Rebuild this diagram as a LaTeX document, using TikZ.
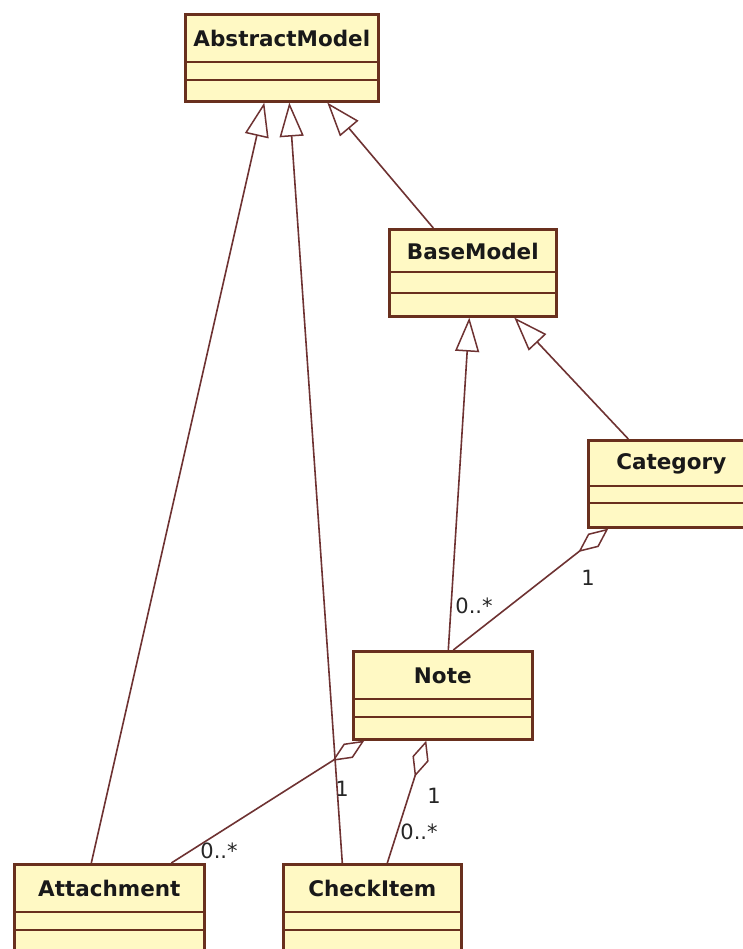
\documentclass[tikz,border=0pt]{standalone}
\usepackage{fontspec}
\setmainfont{DejaVu Sans}
\usetikzlibrary{arrows.meta}
\definecolor{fillc}{RGB}{255,249,196}
\definecolor{boxc}{RGB}{105,48,30}
\definecolor{edgec}{RGB}{110,50,50}
\newcommand{\umlcls}[8]{%
  \node[cls, minimum width=#4pt, minimum height=#5pt] (#1) at (#2,#3) {};
  \draw[sepl] ([yshift=-#6pt]#1.north west) -- ([yshift=-#6pt]#1.north east);
  \draw[sepl] ([yshift=-#7pt]#1.north west) -- ([yshift=-#7pt]#1.north east);
  \node[clstext] (#1-t) at ([yshift=-#6pt/2-1pt]#1.north) {#8};
}
\begin{document}
\begin{tikzpicture}[x=1pt,y=-1pt,
  cls/.style={draw=boxc, fill=fillc, line width=2.6pt, anchor=north west, inner sep=0pt},
  sepl/.style={draw=boxc, line width=2pt},
  clstext/.style={font=\fontsize{21.5}{23}\selectfont\bfseries, text=black!90, inner sep=0pt},
  gen/.style={draw=edgec, line width=1.6pt, -{Triangle[open, length=34pt, width=24pt, line width=1.5pt]}},
  agg/.style={draw=edgec, line width=1.6pt, -{Diamond[open, length=38pt, width=17pt, line width=1.5pt]}},
  lab/.style={font=\fontsize{21}{23}\selectfont, text=black!85, inner sep=0pt}]
\fill[white] (0,0) rectangle (742,949);
\useasboundingbox (0,0) rectangle (742,949);
\umlcls{am}{184}{13}{193}{87}{49}{67}{AbstractModel}
\umlcls{bm}{388}{228}{167}{87}{44}{65}{BaseModel}
\umlcls{cat}{587}{439}{166}{87}{47}{64}{Category}
\umlcls{note}{352}{650}{179}{88}{49}{67}{Note}
\umlcls{att}{13}{863}{190}{100}{49}{67}{Attachment}
\umlcls{chk}{282}{863}{178}{100}{49}{67}{CheckItem}
% generalizations
\draw[gen] ([xshift=-18pt]att.north) -- ([xshift=-17.5pt]am.south);
\draw[gen] ([xshift=-30pt]chk.north) -- ([xshift=7.5pt]am.south);
\draw[gen] ([xshift=-39.5pt]bm.north) -- ([xshift=45.5pt]am.south);
\draw[gen] ([xshift=5.5pt]note.north) -- ([xshift=-3.5pt]bm.south);
\draw[gen] ([xshift=-43pt]cat.north) -- ([xshift=41.5pt]bm.south);
% aggregations
\draw[agg] ([xshift=10.5pt]note.north) -- ([xshift=-63pt]cat.south);
\draw[agg] ([xshift=62pt]att.north) -- ([xshift=-78.5pt]note.south);
\draw[agg] ([xshift=15pt]chk.north) -- ([xshift=-16.5pt]note.south);
% multiplicities
\node[lab] (l1) at (474,606) {0..*};
\node[lab] (l2) at (588,578) {1};
\node[lab] (l3) at (342,789) {1};
\node[lab] (l4) at (219,851) {0..*};
\node[lab] (l5) at (434,796) {1};
\node[lab] (l6) at (419,832) {0..*};
\end{tikzpicture}
\end{document}
